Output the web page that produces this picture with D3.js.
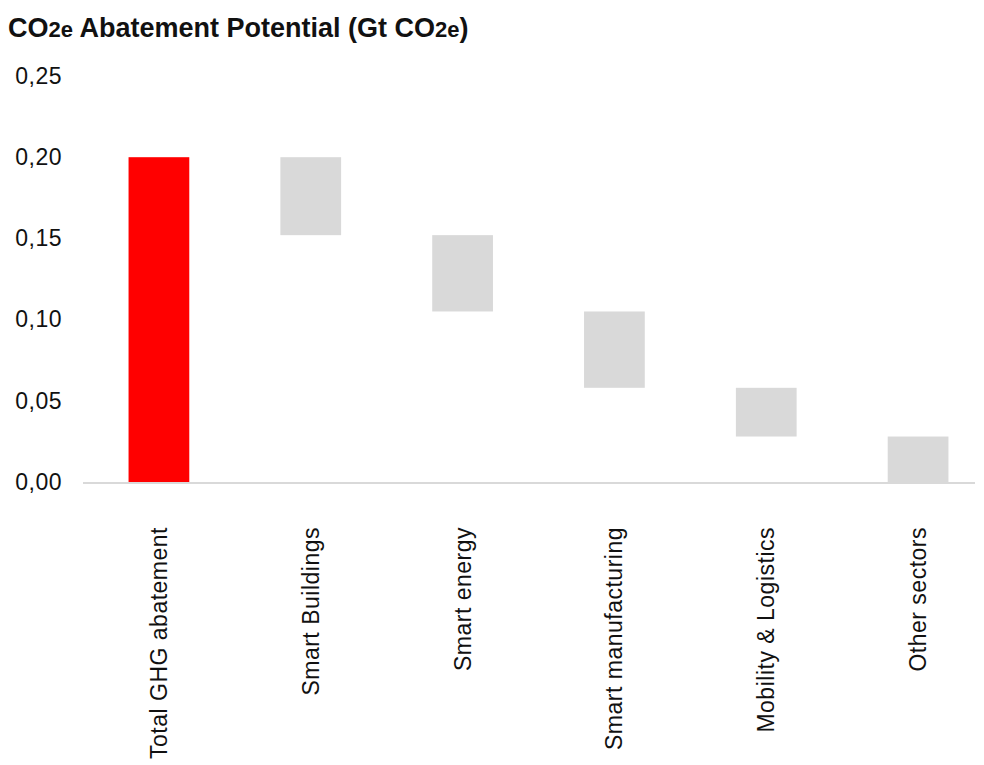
<!DOCTYPE html>
<html>
<head>
<meta charset="utf-8">
<script src="https://cdn.jsdelivr.net/npm/d3@7"></script>
<style>
  body { margin: 0; background: #fff; }
  text { font-family: "Liberation Sans", Arial, sans-serif; fill: #111; }
</style>
</head>
<body>
<script>
// waterfall of abatement potential by sector
const categories = ['Total GHG abatement', 'Smart Buildings', 'Smart energy', 'Smart manufacturing', 'Mobility & Logistics', 'Other sectors']
const barStart = [0, 0.200, 0.152, 0.105, 0.058, 0.028]
const barEnd = [0.200, 0.152, 0.105, 0.058, 0.028, 0]
const yTicks = [0, 0.05, 0.10, 0.15, 0.20, 0.25]

const WIDTH = 984
const HEIGHT = 765

const svg = d3.select('body')
  .append('svg')
  .attr('width', WIDTH)
  .attr('height', HEIGHT)

// title with smaller "2e"
const title = svg.append('text')
  .attr('x', 8)
  .attr('y', 37)
  .attr('font-weight', 'bold')
  .attr('font-size', 27)
title.append('tspan').text('CO')
title.append('tspan').attr('font-size', 22).text('2e')
title.append('tspan').text(' Abatement Potential (Gt CO')
title.append('tspan').attr('font-size', 22).text('2e')
title.append('tspan').text(')')

const y = d3.scaleLinear()
  .domain([0, 0.25])
  .range([482, 76])

const x = d3.scaleBand()
  .domain(categories)
  .range([83, 994])
  .paddingInner(0.6)
  .paddingOuter(0.3)

const yAxis = svg.append('g')
  .attr('transform', 'translate(62,0)')
  .call(d3.axisLeft(y)
    .tickValues(yTicks)
    .tickSize(0)
    .tickPadding(0)
    .tickFormat(d => d3.format('.2f')(d).replace('.', ',')))
yAxis.select('.domain').remove()
yAxis.selectAll('text')
  .attr('font-size', 23)
  .attr('letter-spacing', 0.5)
  .attr('font-family', '"Liberation Sans", Arial, sans-serif')
  .attr('fill', '#111')

// baseline
svg.append('line')
  .attr('x1', 83)
  .attr('x2', 975)
  .attr('y1', y(0) + 1)
  .attr('y2', y(0) + 1)
  .attr('stroke', '#d9d9d9')
  .attr('stroke-width', 2)

svg.selectAll('rect.bar')
  .data(categories)
  .enter()
  .append('rect')
  .attr('class', 'bar')
  .attr('x', d => x(d))
  .attr('width', x.bandwidth())
  .attr('y', (d, i) => y(Math.max(barStart[i], barEnd[i])))
  .attr('height', (d, i) => Math.abs(y(barStart[i]) - y(barEnd[i])))
  .attr('fill', (d, i) => i === 0 ? '#ff0000' : '#d9d9d9')

const xAxis = svg.append('g')
  .attr('transform', 'translate(0,519)')
  .call(d3.axisBottom(x).tickSize(0).tickPadding(0))
xAxis.select('.domain').remove()
xAxis.selectAll('text')
  .attr('font-size', 23)
  .attr('letter-spacing', 0.5)
  .attr('font-family', '"Liberation Sans", Arial, sans-serif')
  .attr('fill', '#111')
  .attr('transform', 'rotate(-90)')
  .attr('text-anchor', 'end')
  .attr('x', -8)
  .attr('y', 0)
  .attr('dy', '0.35em')
</script>
</body>
</html>
